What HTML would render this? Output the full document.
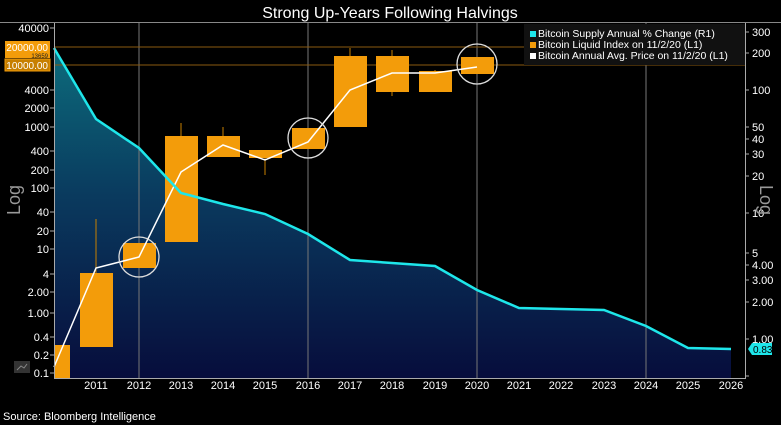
<!DOCTYPE html>
<html><head><meta charset="utf-8"><style>
html,body{margin:0;padding:0;background:#000;}
svg{display:block;font-family:"Liberation Sans",sans-serif;}
</style></head><body>
<svg width="781" height="425" viewBox="0 0 781 425" xmlns="http://www.w3.org/2000/svg">
<defs>
<linearGradient id="g" x1="0" y1="0" x2="0" y2="1">
<stop offset="0" stop-color="#0c6c7c"/>
<stop offset="0.45" stop-color="#0a3a5e"/>
<stop offset="1" stop-color="#070d3c"/>
</linearGradient>
</defs>
<rect width="781" height="425" fill="#000"/>
<text x="390" y="18" fill="#fff" font-size="16" text-anchor="middle">Strong Up-Years Following Halvings</text>
<line x1="0" y1="22.5" x2="781" y2="22.5" stroke="#888" stroke-width="1"/>
<path d="M54,48 L96,119 L139,148 L181,193 L223,204 L265,214 L308,234 L350,260 L392,263 L435,266 L477,290 L519,308 L561,309 L604,310 L646,326 L688,348 L731,349 L731,378 L54,378 Z" fill="url(#g)"/>
<g stroke="#777" stroke-width="1">
<line x1="139" y1="23" x2="139" y2="378"/>
<line x1="308" y1="23" x2="308" y2="378"/>
<line x1="477" y1="23" x2="477" y2="378"/>
<line x1="646" y1="23" x2="646" y2="378"/>
</g>
<line x1="54" y1="47" x2="745" y2="47" stroke="#8a5a10" stroke-width="1"/>
<line x1="54" y1="65" x2="745" y2="65" stroke="#8a5a10" stroke-width="1"/>
<g stroke="#c77f00" stroke-width="1">
<line x1="96" y1="219" x2="96" y2="273"/>
<line x1="181" y1="123" x2="181" y2="136"/>
<line x1="223" y1="127" x2="223" y2="136"/>
<line x1="265" y1="158" x2="265" y2="175"/>
<line x1="350" y1="48" x2="350" y2="56"/>
<line x1="392" y1="50" x2="392" y2="56"/>
<line x1="392" y1="92" x2="392" y2="96"/>
<line x1="435" y1="70" x2="435" y2="71"/>
</g>
<g fill="#f39c0a">
<rect x="54" y="345" width="16" height="33"/>
<rect x="80" y="273" width="33" height="74"/>
<rect x="123" y="243" width="33" height="25"/>
<rect x="165" y="136" width="33" height="106"/>
<rect x="207" y="136" width="33" height="21"/>
<rect x="249" y="150" width="33" height="8"/>
<rect x="292" y="128" width="33" height="21"/>
<rect x="334" y="56" width="33" height="71"/>
<rect x="376" y="56" width="33" height="36"/>
<rect x="419" y="71" width="33" height="21"/>
<rect x="461" y="57" width="33" height="17"/>
</g>
<polyline points="54,367 96,268 139,257 181,172 223,145 265,160 308,142 350,90 392,73 435,73 477,67" fill="none" stroke="#fff" stroke-width="1.5"/>
<polyline points="54,48 96,119 139,148 181,193 223,204 265,214 308,234 350,260 392,263 435,266 477,290 519,308 561,309 604,310 646,326 688,348 731,349" fill="none" stroke="#1ee6ea" stroke-width="2.5"/>
<g fill="none" stroke="#ddd" stroke-width="1.3">
<circle cx="139" cy="257" r="20"/>
<circle cx="308" cy="138" r="20"/>
<circle cx="477" cy="64" r="20"/>
</g>
<line x1="54.5" y1="23" x2="54.5" y2="378" stroke="#aaa"/>
<line x1="54" y1="378.5" x2="746" y2="378.5" stroke="#aaa"/>
<line x1="745.5" y1="23" x2="745.5" y2="378" stroke="#aaa"/>
<g fill="#fff" font-size="11" text-anchor="end">
<text x="49" y="32">40000</text>
<text x="49" y="94">4000</text>
<text x="49" y="112">2000</text>
<text x="49" y="131">1000</text>
<text x="49" y="155">400</text>
<text x="49" y="174">200</text>
<text x="49" y="192">100</text>
<text x="49" y="216">40</text>
<text x="49" y="235">20</text>
<text x="49" y="253">10</text>
<text x="49" y="278">4</text>
<text x="49" y="296">2.00</text>
<text x="49" y="317">1.00</text>
<text x="49" y="341">0.4</text>
<text x="49" y="359">0.2</text>
<text x="49" y="377">0.1</text>
</g>
<g stroke="#aaa">
<line x1="50" y1="28" x2="54" y2="28"/><line x1="50" y1="90" x2="54" y2="90"/><line x1="50" y1="108" x2="54" y2="108"/><line x1="50" y1="127" x2="54" y2="127"/><line x1="50" y1="151" x2="54" y2="151"/><line x1="50" y1="170" x2="54" y2="170"/><line x1="50" y1="188" x2="54" y2="188"/><line x1="50" y1="212" x2="54" y2="212"/><line x1="50" y1="231" x2="54" y2="231"/><line x1="50" y1="249" x2="54" y2="249"/><line x1="50" y1="274" x2="54" y2="274"/><line x1="50" y1="292" x2="54" y2="292"/><line x1="50" y1="313" x2="54" y2="313"/><line x1="50" y1="337" x2="54" y2="337"/><line x1="50" y1="355" x2="54" y2="355"/><line x1="50" y1="373" x2="54" y2="373"/>
</g>
<g stroke="#aaa">
<line x1="745" y1="32" x2="749" y2="32"/><line x1="745" y1="53" x2="749" y2="53"/><line x1="745" y1="90" x2="749" y2="90"/><line x1="745" y1="127" x2="749" y2="127"/><line x1="745" y1="139" x2="749" y2="139"/><line x1="745" y1="154" x2="749" y2="154"/><line x1="745" y1="176" x2="749" y2="176"/><line x1="745" y1="213" x2="749" y2="213"/><line x1="745" y1="253" x2="749" y2="253"/><line x1="745" y1="265" x2="749" y2="265"/><line x1="745" y1="280" x2="749" y2="280"/><line x1="745" y1="302" x2="749" y2="302"/><line x1="745" y1="339" x2="749" y2="339"/><line x1="745" y1="376" x2="749" y2="376"/>
</g>
<rect x="5" y="41" width="45" height="12" fill="#f39c0a"/>
<text x="48" y="51" fill="#fff" font-size="10" text-anchor="end">20000.00</text>
<rect x="5" y="53" width="45" height="5" fill="#f39c0a"/>
<text x="48" y="58" fill="#222" font-size="6" text-anchor="end">13659</text>
<rect x="5" y="59" width="45" height="12" fill="#c77f00" stroke="#f39c0a"/>
<text x="48" y="69" fill="#fff" font-size="10" text-anchor="end">10000.00</text>
<text x="20" y="200" fill="#999" font-size="18" transform="rotate(-90 20 200)" text-anchor="middle">Log</text>
<rect x="14" y="361" width="16" height="12" fill="#333"/>
<polyline points="17,370 21,366 24,368 27,364" fill="none" stroke="#888" stroke-width="1"/>
<g fill="#fff" font-size="11">
<text x="752" y="36">300</text>
<text x="752" y="57">200</text>
<text x="752" y="94">100</text>
<text x="752" y="131">50</text>
<text x="752" y="143">40</text>
<text x="752" y="158">30</text>
<text x="752" y="180">20</text>
<text x="752" y="217">10</text>
<text x="752" y="257">5</text>
<text x="752" y="269">4.00</text>
<text x="752" y="284">3.00</text>
<text x="752" y="306">2.00</text>
<text x="752" y="343">1.00</text>
</g>
<text x="760" y="200" fill="#999" font-size="18" transform="rotate(90 760 200)" text-anchor="middle">Log</text>
<path d="M748,349 L752,343 L772,343 L772,355 L752,355 Z" fill="#1ee6ea"/>
<text x="753" y="353" fill="#000" font-size="10">0.83</text>
<g fill="#fff" font-size="11" text-anchor="middle">
<text x="96" y="389">2011</text><text x="139" y="389">2012</text><text x="181" y="389">2013</text><text x="223" y="389">2014</text><text x="265" y="389">2015</text><text x="308" y="389">2016</text><text x="350" y="389">2017</text><text x="392" y="389">2018</text><text x="435" y="389">2019</text><text x="477" y="389">2020</text><text x="519" y="389">2021</text><text x="561" y="389">2022</text><text x="604" y="389">2023</text><text x="646" y="389">2024</text><text x="688" y="389">2025</text><text x="731" y="389">2026</text>
</g>
<rect x="524" y="24" width="221" height="41" fill="#111"/>
<g font-size="10.5" fill="#fff">
<rect x="530" y="31" width="6" height="6" fill="#1ee6ea"/><text x="538" y="37">Bitcoin Supply Annual % Change (R1)</text>
<rect x="530" y="42" width="6" height="6" fill="#f39c0a"/><text x="538" y="48">Bitcoin Liquid Index on 11/2/20 (L1)</text>
<rect x="530" y="53" width="6" height="6" fill="#fff"/><text x="538" y="59">Bitcoin Annual Avg. Price  on 11/2/20 (L1)</text>
</g>
<text x="3" y="420" fill="#fff" font-size="11">Source: Bloomberg Intelligence</text>
</svg>
</body></html>
